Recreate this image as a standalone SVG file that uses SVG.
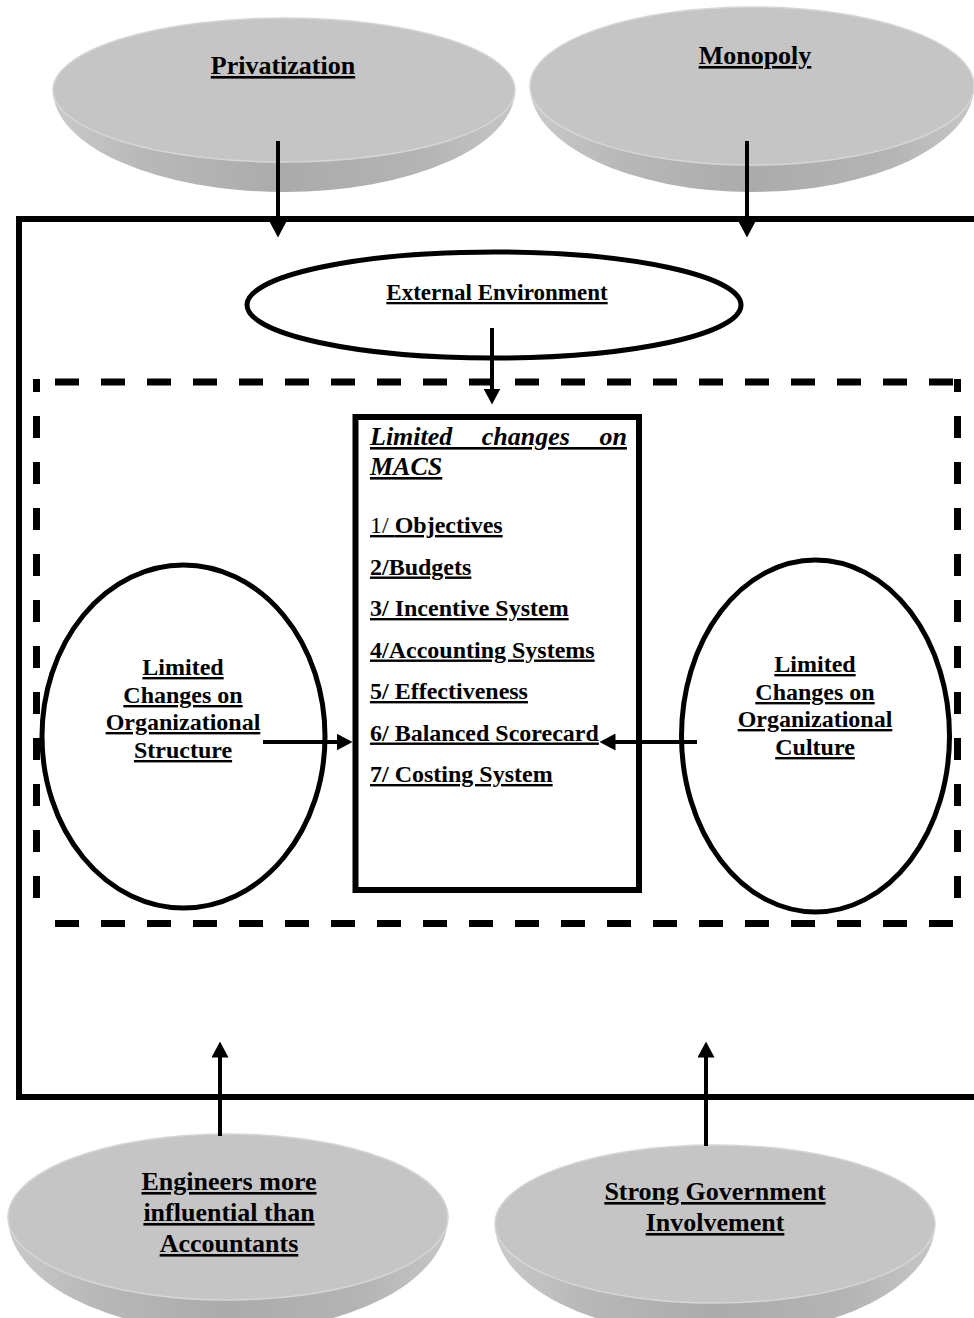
<svg xmlns="http://www.w3.org/2000/svg" width="974" height="1318" viewBox="0 0 974 1318">
  <style>
    .lbl { font-family: "Liberation Serif", "Times New Roman", serif; font-weight: bold; font-size: 24px; fill: #000; text-decoration: underline; }
    .big { font-size: 26px; }
    .mid { text-anchor: middle; }
    .ital { font-style: italic; font-size: 26px; }
    .thin { font-weight: normal; }
    .disc-top { fill: #c5c5c5; stroke: #d6d6d6; stroke-width: 1.5; }
    .disc-side { fill: url(#side); }
    .outline { fill: #fff; stroke: #000; stroke-width: 5; }
    .frame { fill: none; stroke: #000; stroke-width: 6; }
    .dash { fill: none; stroke: #000; stroke-width: 7; }
    .conn { fill: none; stroke: #000; stroke-width: 4; marker-end: url(#head); }
  </style>
  <defs>
    <linearGradient id="side" x1="0" y1="0" x2="1" y2="0">
      <stop offset="0" stop-color="#cacaca"/>
      <stop offset="0.2" stop-color="#b8b8b8"/>
      <stop offset="0.5" stop-color="#ababab"/>
      <stop offset="0.8" stop-color="#b4b4b4"/>
      <stop offset="1" stop-color="#c6c6c6"/>
    </linearGradient>
    <marker id="head" viewBox="0 0 16 17" refX="0.5" refY="8.5" markerWidth="16" markerHeight="17" markerUnits="userSpaceOnUse" orient="auto">
      <path d="M0,0 L16,8.5 L0,17 z" fill="#000"/>
    </marker>
  </defs>

  <rect width="974" height="1318" fill="#fff"/>

  <!-- outer frame (right side runs past the page edge) -->
  <rect id="frame" class="frame" x="19" y="219" width="990" height="878"/>

  <!-- dashed inner boundary -->
  <g id="boundary">
    <line class="dash" x1="36.5" y1="898" x2="36.5" y2="379" stroke-dasharray="22 24"/>
    <line class="dash" x1="957.5" y1="898" x2="957.5" y2="379" stroke-dasharray="22 24"/>
    <line class="dash" x1="55" y1="382" x2="954" y2="382" stroke-width="6" stroke-dasharray="24 22"/>
    <line class="dash" x1="55" y1="923.5" x2="954" y2="923.5" stroke-width="6" stroke-dasharray="24 22"/>
  </g>

  <!-- raised discs -->
  <g id="privatization">
    <path class="disc-side" d="M53,90 A231,102 0 0 0 515,90 Z"/>
    <ellipse class="disc-top" cx="284" cy="90" rx="231" ry="72"/>
    <text class="lbl big mid" x="283" y="74">Privatization</text>
  </g>
  <g id="monopoly">
    <path class="disc-side" d="M530,86 A222,106 0 0 0 974,86 Z"/>
    <ellipse class="disc-top" cx="752" cy="86" rx="222" ry="79"/>
    <text class="lbl big mid" x="755" y="64">Monopoly</text>
  </g>
  <g id="engineers">
    <path class="disc-side" d="M8,1217 A220,115 0 0 0 448,1217 Z"/>
    <ellipse class="disc-top" cx="228" cy="1217" rx="220" ry="83"/>
    <text class="lbl big mid" x="229" y="1190">Engineers more</text>
    <text class="lbl big mid" x="229" y="1221">influential than</text>
    <text class="lbl big mid" x="229" y="1252">Accountants</text>
  </g>
  <g id="government">
    <path class="disc-side" d="M495,1224 A220,112 0 0 0 935,1224 Z"/>
    <ellipse class="disc-top" cx="715" cy="1224" rx="220" ry="79"/>
    <text class="lbl big mid" x="715" y="1200">Strong Government</text>
    <text class="lbl big mid" x="715" y="1231">Involvement</text>
  </g>

  <!-- outlined nodes -->
  <g id="external">
    <ellipse class="outline" cx="494" cy="305" rx="247" ry="53"/>
    <text class="lbl mid" x="497" y="300" style="font-size:23px">External Environment</text>
  </g>
  <g id="structure">
    <ellipse class="outline" cx="183.5" cy="736.5" rx="141.5" ry="171.5"/>
    <text class="lbl mid" x="183" y="675">Limited</text>
    <text class="lbl mid" x="183" y="703">Changes on</text>
    <text class="lbl mid" x="183" y="730">Organizational</text>
    <text class="lbl mid" x="183" y="758">Structure</text>
  </g>
  <g id="culture">
    <ellipse class="outline" cx="815.5" cy="736" rx="134" ry="176"/>
    <text class="lbl mid" x="815" y="672">Limited</text>
    <text class="lbl mid" x="815" y="700">Changes on</text>
    <text class="lbl mid" x="815" y="727">Organizational</text>
    <text class="lbl mid" x="815" y="755">Culture</text>
  </g>
  <g id="macs">
    <rect x="355.5" y="417" width="283.5" height="473" fill="#fff" stroke="#000" stroke-width="6"/>
    <!-- justified heading line -->
    <text class="lbl ital" x="370" y="445" word-spacing="23">Limited changes on</text>
    <text class="lbl ital" x="370" y="475">MACS</text>
    <text class="lbl" x="370" y="533"><tspan class="thin">1/ </tspan>Objectives</text>
    <text class="lbl" x="370" y="574.5">2/Budgets</text>
    <text class="lbl" x="370" y="616">3/ Incentive System</text>
    <text class="lbl" x="370" y="657.5">4/Accounting Systems</text>
    <text class="lbl" x="370" y="699">5/ Effectiveness</text>
    <text class="lbl" x="370" y="740.5">6/ Balanced Scorecard</text>
    <text class="lbl" x="370" y="782">7/ Costing System</text>
  </g>

  <!-- connectors -->
  <g id="connectors">
    <path class="conn" d="M278,141 V222"/>
    <path class="conn" d="M747,141 V222"/>
    <path class="conn" d="M492,328 V389"/>
    <path class="conn" d="M263,742 H337"/>
    <path class="conn" d="M697,742 H615"/>
    <path class="conn" d="M220,1136 V1057"/>
    <path class="conn" d="M706,1146 V1057"/>
  </g>
</svg>
